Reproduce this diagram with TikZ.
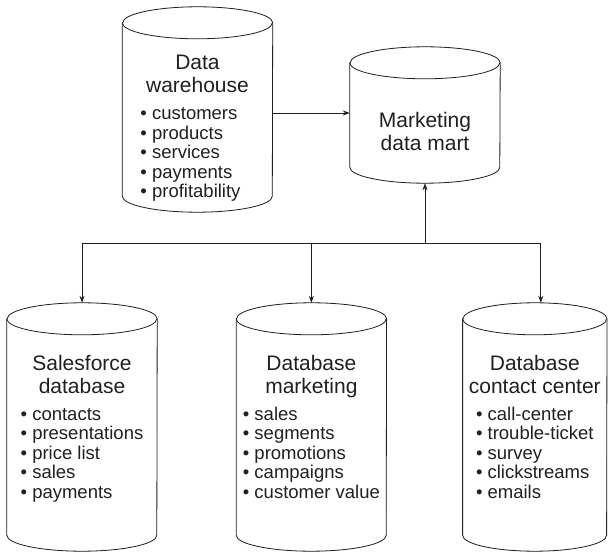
\documentclass[tikz,border=0pt]{standalone}
\usepackage{fontspec}
\setmainfont{Liberation Sans}
\usetikzlibrary{positioning, arrows.meta}
\definecolor{inkgray}{RGB}{35,31,32}
\definecolor{shadegray}{RGB}{128,128,128}

\begin{document}
\begin{tikzpicture}[x=1pt, y=-1pt,
  db/.style={rectangle, draw=none, inner sep=0pt, minimum width=150pt},
  dbtext/.style={anchor=north, inner sep=0pt, align=center, text=inkgray,
                 font=\fontsize{21}{23}\selectfont},
  arrow/.style={->, >={Stealth[length=7pt, width=5pt]}, line width=0.8pt, inkgray}
]
  \useasboundingbox (0,0) rectangle (608,553);

  % cylinder frames (full extent, caps included)
  \node[db, minimum height=205pt] (dw) at (197.5,109.5) {};
  \node[db, minimum height=136pt] (mart) at (425,115) {};
  \node[db, minimum height=248pt] (sales) at (82,427) {};
  \node[db, minimum height=248pt, right=79pt of sales] (mkt) {};
  \node[db, minimum height=248pt, minimum width=144pt, right=76pt of mkt] (cc) {};

  % cylinder outlines with shadow
  \foreach \n/\r in {dw/75, mart/75, sales/75, mkt/75, cc/72} {
    \fill[shadegray, xshift=3pt, yshift=-2pt]
      ([yshift=-16pt]\n.north west) -- ([yshift=16pt]\n.south west)
      arc[start angle=180, end angle=360, x radius=\r pt, y radius=16pt]
      -- ([yshift=-16pt]\n.north east)
      arc[start angle=0, end angle=180, x radius=\r pt, y radius=16pt] -- cycle;
    \draw[inkgray, fill=white, line width=0.8pt]
      ([yshift=-16pt]\n.north west) -- ([yshift=16pt]\n.south west)
      arc[start angle=180, end angle=360, x radius=\r pt, y radius=16pt]
      -- ([yshift=-16pt]\n.north east)
      arc[start angle=0, end angle=180, x radius=\r pt, y radius=16pt] -- cycle;
    \draw[inkgray, line width=0.8pt] ([yshift=-16pt]\n.north west)
      arc[start angle=180, end angle=360, x radius=\r pt, y radius=16pt];
  }

  % texts
  \node[dbtext] (dw-text) at (dw |- 0,55) {Data\\warehouse\\[4pt]
   {\fontsize{18.5}{19.5}\selectfont\begin{tabular}[t]{@{}l@{}}
    \textbullet\ customers\\ \textbullet\ products\\ \textbullet\ services\\
    \textbullet\ payments\\ \textbullet\ profitability\end{tabular}\kern14pt}};
  \node[dbtext] (mart-text) at (mart |- 0,112) {Marketing\\data mart};
  \node[dbtext] (sales-text) at (sales |- 0,355) {Salesforce\\database\\[4pt]
   {\fontsize{18.5}{19.5}\selectfont\begin{tabular}[t]{@{}l@{}}
    \textbullet\ contacts\\ \textbullet\ presentations\\ \textbullet\ price list\\
    \textbullet\ sales\\ \textbullet\ payments\end{tabular}}};
  \node[dbtext] (mkt-text) at (mkt |- 0,355) {Database\\marketing\\[4pt]
   {\fontsize{18.5}{19.5}\selectfont\begin{tabular}[t]{@{}l@{}}
    \textbullet\ sales\\ \textbullet\ segments\\ \textbullet\ promotions\\
    \textbullet\ campaigns\\ \textbullet\ customer value\end{tabular}}};
  \node[dbtext] (cc-text) at (cc |- 0,355) {Database\\contact center\\[4pt]
   {\fontsize{18.5}{19.5}\selectfont\begin{tabular}[t]{@{}l@{}}
    \textbullet\ call-center\\ \textbullet\ trouble-ticket\\ \textbullet\ survey\\
    \textbullet\ clickstreams\\ \textbullet\ emails\end{tabular}}};

  % connectors
  \coordinate (bus) at (mart.south |- 0,243);
  \draw[arrow] ([yshift=-3.5pt]dw.east) -- ([yshift=-3.5pt]dw.east -| mart.west);
  \draw[arrow] (bus) -- (mart.south);
  \draw[arrow] (bus) -| (sales.north);
  \draw[arrow] (bus) -| (mkt.north);
  \draw[arrow] (bus) -| ([xshift=6pt]cc.north);
\end{tikzpicture}
\end{document}
